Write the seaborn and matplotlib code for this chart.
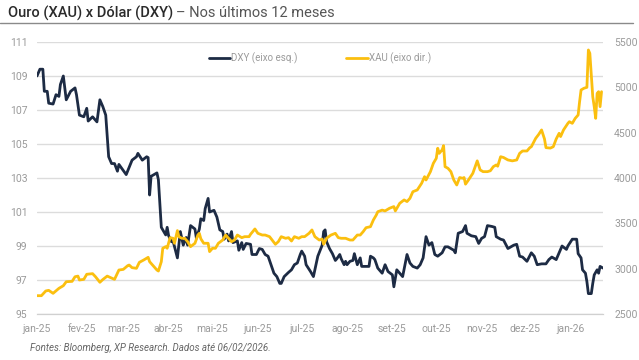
import numpy as np
import pandas as pd
import seaborn as sns
import matplotlib.pyplot as plt

# dias corridos a partir de 01/01/2025 e valores
dxy_days = [0, 2, 4, 5, 7, 8, 11, 13, 15, 16, 18, 20, 23, 26, 27, 29, 32, 34, 35, 38,
            41, 43, 45, 47, 49, 51, 53, 55, 56, 61, 65, 68, 69, 72, 75, 76, 77, 78, 82, 83,
            85, 88, 89, 90, 92, 93, 96, 98, 100, 102, 103, 105, 108, 109, 111, 112, 114, 115, 117, 118,
            121, 123, 125, 127, 128, 130, 131, 133, 134, 137, 138, 140, 141, 143, 146, 147, 150, 152, 154, 156,
            158, 160, 162, 164, 166, 167, 169, 172, 174, 176, 178, 180, 181, 183, 184, 187, 189, 190, 192, 195,
            196, 197, 198, 200, 202, 204, 205, 207, 208, 210, 211, 212, 214, 216, 217, 219, 221, 222, 224, 227,
            228, 230, 231, 233, 236, 238, 240, 243, 244, 246, 248, 250, 253, 255, 257, 260, 262, 264, 266, 268,
            270, 272, 274, 277, 279, 281, 285, 286, 288, 291, 293, 294, 297, 300, 302, 304, 306, 308, 311, 313,
            314, 317, 319, 322, 324, 326, 328, 330, 332, 335, 338, 340, 342, 345, 348, 350, 352, 355, 357, 359,
            362, 363, 366, 369, 370, 372, 373, 375, 376, 377, 379, 380, 381, 383, 384, 385, 387]
dxy_vals = [109.0, 109.4, 109.4, 108.1, 108.1, 107.4, 107.35, 107.9, 107.8, 108.5, 109.0, 107.6, 108.1, 108.3, 107.9, 106.7, 106.6, 107.1, 106.35, 106.6,
            106.3, 107.6, 107.2, 106.7, 104.25, 103.85, 103.85, 103.4, 103.8, 103.2, 104.05, 104.25, 104.45, 104.05, 104.25, 104.2, 102.0, 103.1, 103.3, 102.9,
            100.1, 99.65, 100.1, 99.6, 99.25, 99.3, 98.3, 99.85, 99.05, 99.5, 99.05, 100.2, 100.0, 99.45, 100.0, 100.6, 100.5, 101.2, 101.8, 101.0,
            101.1, 100.7, 99.95, 99.85, 99.4, 99.7, 99.3, 99.85, 99.2, 99.3, 98.75, 99.2, 98.8, 99.15, 99.1, 98.5, 98.5, 98.85, 98.8, 98.5,
            98.4, 97.9, 97.4, 97.2, 96.8, 96.8, 97.2, 97.45, 97.6, 97.9, 98.0, 98.5, 98.7, 98.4, 97.9, 97.5, 97.2, 97.6, 98.4, 99.05,
            99.85, 99.95, 99.25, 98.85, 98.55, 98.15, 98.25, 98.5, 98.25, 97.9, 98.1, 97.9, 98.1, 98.15, 98.55, 97.9, 98.3, 97.8, 97.8, 97.8,
            98.4, 98.3, 98.2, 97.7, 97.4, 97.9, 97.5, 97.3, 96.6, 97.6, 97.4, 97.2, 98.5, 98.0, 97.8, 97.7, 97.9, 98.3, 99.55, 99.05,
            99.2, 98.5, 98.4, 98.6, 98.95, 98.95, 98.75, 98.6, 99.75, 99.85, 100.2, 99.75, 99.6, 99.55, 99.15, 99.45, 99.55, 100.2, 100.15, 100.1,
            99.55, 99.4, 99.35, 98.85, 98.95, 99.05, 99.1, 98.4, 98.35, 98.1, 98.6, 98.4, 97.9, 97.95, 97.95, 98.2, 98.35, 98.2, 98.6, 99.0,
            98.8, 99.0, 99.4, 99.4, 98.55, 98.3, 97.6, 97.4, 96.9, 96.2, 96.2, 96.8, 97.3, 97.6, 97.4, 97.8, 97.7]

xau_days = [0, 3, 6, 8, 11, 15, 18, 20, 24, 26, 28, 29, 32, 34, 38, 40, 43, 45, 48, 51,
            53, 56, 59, 62, 63, 65, 68, 70, 73, 76, 77, 79, 82, 83, 85, 86, 88, 89, 91, 93,
            94, 96, 97, 99, 101, 103, 105, 108, 110, 111, 112, 114, 117, 118, 120, 122, 124, 127, 129, 131,
            133, 135, 137, 140, 142, 145, 146, 149, 151, 154, 156, 159, 163, 165, 167, 170, 172, 174, 176, 179,
            181, 183, 186, 188, 190, 193, 195, 196, 198, 201, 204, 206, 208, 211, 214, 216, 219, 221, 223, 225,
            228, 230, 232, 233, 236, 238, 241, 244, 245, 248, 251, 253, 255, 257, 260, 263, 265, 266, 269, 271,
            273, 274, 275, 277, 278, 279, 281, 283, 285, 287, 289, 291, 292, 293, 295, 298, 300, 301, 303, 305,
            308, 310, 312, 314, 315, 317, 319, 322, 325, 328, 330, 332, 335, 337, 338, 341, 343, 345, 347, 348,
            351, 353, 355, 357, 358, 360, 363, 364, 366, 368, 370, 371, 372, 374, 376, 377, 378, 379, 380, 381,
            382, 383, 384, 385, 386]
xau_vals = [2702, 2702, 2754, 2761, 2728, 2783, 2812, 2856, 2860, 2911, 2918, 2875, 2882, 2938, 2945, 2911, 2850, 2880, 2918, 2896,
            2882, 2985, 2992, 3033, 3040, 3011, 3004, 3070, 3096, 3125, 3077, 3040, 2985, 2974, 3077, 3225, 3243, 3225, 3342, 3335,
            3280, 3420, 3353, 3335, 3335, 3298, 3243, 3280, 3371, 3390, 3330, 3280, 3280, 3188, 3225, 3225, 3280, 3316, 3371, 3335,
            3298, 3316, 3371, 3342, 3353, 3353, 3379, 3438, 3390, 3371, 3371, 3353, 3269, 3298, 3353, 3335, 3342, 3305, 3353, 3335,
            3353, 3353, 3390, 3427, 3353, 3316, 3327, 3269, 3335, 3371, 3390, 3342, 3335, 3335, 3316, 3316, 3371, 3371, 3408, 3452,
            3463, 3537, 3592, 3628, 3646, 3637, 3666, 3685, 3637, 3721, 3758, 3740, 3776, 3849, 3868, 3942, 4015, 3978, 4070, 4162,
            4217, 4328, 4272, 4310, 4357, 4125, 4107, 4070, 3978, 3923, 4005, 3997, 4005, 3932, 3978, 4052, 4144, 4189, 4089, 4070,
            4070, 4080, 4125, 4144, 4130, 4235, 4226, 4199, 4189, 4199, 4272, 4298, 4298, 4335, 4345, 4438, 4480, 4530, 4430, 4335,
            4330, 4345, 4430, 4493, 4457, 4530, 4603, 4621, 4603, 4658, 4695, 4842, 4971, 4990, 5000, 5412, 5375, 5130, 4897, 4787,
            4658, 4934, 4952, 4787, 4952]

month_labels = ['jan-25', 'fev-25', 'mar-25', 'abr-25', 'mai-25', 'jun-25', 'jul-25',
                'ago-25', 'set-25', 'out-25', 'nov-25', 'dez-25', 'jan-26']

start = pd.Timestamp('2025-01-01')
dxy = pd.DataFrame({'data': start + pd.to_timedelta(dxy_days, unit='D'), 'valor': dxy_vals})
xau = pd.DataFrame({'data': start + pd.to_timedelta(xau_days, unit='D'), 'valor': xau_vals})

sns.set_style('white')
plt.rcParams['font.family'] = ['Roboto', 'DejaVu Sans']

navy = '#1d2b44'
gold = '#fbbf0f'
grey_txt = '#9a9a9a'

fig = plt.figure(figsize=(6.39, 3.6), dpi=100)
ax = fig.add_axes([37 / 639, 46 / 360, 566 / 639, 272 / 360])
ax2 = ax.twinx()

sns.lineplot(data=dxy, x='data', y='valor', ax=ax, color=navy, linewidth=2.0, label='DXY (eixo esq.)', legend=False)
sns.lineplot(data=xau, x='data', y='valor', ax=ax2, color=gold, linewidth=2.0, label='XAU (eixo dir.)', legend=False)

ax.set_ylim(95, 111)
ax.set_yticks(np.arange(95, 112, 2))
ax2.set_ylim(2500, 5500)
ax2.set_yticks(np.arange(2500, 5501, 500))
ax.set_xlim(start, start + pd.Timedelta(days=387))
ax.set_xticks(pd.date_range('2025-01-01', periods=13, freq='MS'))
ax.set_xticklabels(month_labels)

ax.grid(axis='y', color='#dcdcdc', linewidth=1.0)
ax.set_axisbelow(True)
for a in (ax, ax2):
    a.set_xlabel('')
    a.set_ylabel('')
    for s in ('top', 'left', 'right'):
        a.spines[s].set_visible(False)
    a.spines['bottom'].set_color('#d0d0d0')
    a.tick_params(labelsize=7.5, colors=grey_txt, length=0, pad=4)
ax.tick_params(axis='x', length=4, color='#d0d0d0', direction='out', pad=3)
ax.tick_params(axis='y', pad=7)
ax2.tick_params(axis='y', pad=8)

h1, l1 = ax.get_legend_handles_labels()
h2, l2 = ax2.get_legend_handles_labels()
leg = ax2.legend(h1 + h2, l1 + l2, loc='center', bbox_to_anchor=(0.5, 0.94), ncol=2,
                 frameon=False, fontsize=7, handlelength=2.2, handletextpad=0.1, columnspacing=5.0)
for t in leg.get_texts():
    t.set_color(grey_txt)

# título em duas partes
t1 = fig.text(8 / 639, 1 - 13 / 360, 'Ouro (XAU) x Dólar (DXY)', fontsize=10.5, color='#2b2b2b',
              fontweight='medium', va='center', ha='left')
fig.canvas.draw()
bb = t1.get_window_extent()
fig.text(bb.x1 / fig.bbox.width + 3 / 639, 1 - 13 / 360, '– Nos últimos 12 meses', fontsize=10.5,
         color='#555555', va='center', ha='left')
fig.add_artist(plt.Line2D([0.0, 0.99], [1 - 23 / 360, 1 - 23 / 360], color='#8a8a8a', linewidth=1.0,
                          transform=fig.transFigure))

fig.text(30 / 639, 1 - 348 / 360, 'Fontes: Bloomberg, XP Research. Dados até 06/02/2026.', fontsize=7,
         style='italic', color='#666666', va='center', ha='left')

fig.savefig('out.png', dpi=100)
